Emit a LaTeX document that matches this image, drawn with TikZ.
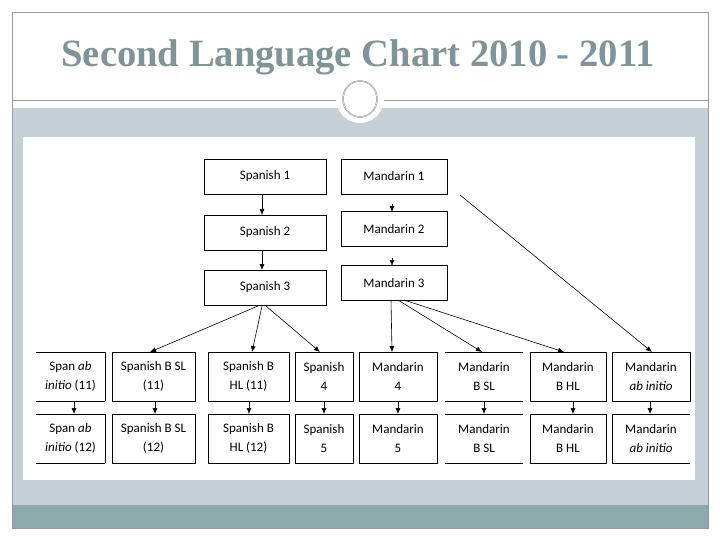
\documentclass[tikz,border=0pt]{standalone}
\usepackage{fontspec}
\usetikzlibrary{arrows.meta}
\setmainfont{Carlito}
\newfontfamily\titlefont{Liberation Serif}
\begin{document}
\begin{tikzpicture}[x=1pt,y=-1pt,>={Latex[length=6pt,width=5pt]},
  bx/.style={draw=black,line width=0.6pt,minimum height=35pt,inner sep=1pt,font=\fontsize{13}{14}\selectfont,align=center},
  lb/.style={draw=none,minimum height=49pt,inner sep=1pt,font=\fontsize{13}{19}\selectfont,align=center},
  ar/.style={->,line width=0.6pt}]
\useasboundingbox (0,0) rectangle (720,540);
\fill[white] (0,0) rectangle (720,540);
\fill[fill={rgb,255:red,197;green,208;blue,214}] (12,108) rectangle (708,505);
\fill[fill={rgb,255:red,139;green,171;blue,173}] (12,505) rectangle (708,528);
\draw[gray!80] (12,12) rectangle (708,528);
\fill[white] (23,137) rectangle (695,480);
\draw[gray!80] (12,100) -- (708,100);
\fill[white] (360,99) circle (24);
\draw[gray!90,line width=1.4pt] (360,99) ellipse (17 and 18);
\draw[white,line width=0.4pt] (360,99) ellipse (17 and 18);
\node[text={rgb,255:red,127;green,148;blue,150}] (title) at (358,57) {\resizebox{593pt}{!}{\titlefont\bfseries Second Language Chart 2010 - 2011}};
% top boxes
\node[bx,minimum width=122pt] (s1) at (265,176.5) {Spanish 1};
\node[bx,minimum width=122pt] (s2) at (265,232.5) {Spanish 2};
\node[bx,minimum width=122pt] (s3) at (265,287.5) {Spanish 3};
\node[bx,minimum width=106pt] (m1) at (394,176.5) {Mandarin 1};
\node[bx,minimum width=106pt] (m2) at (394,229) {Mandarin 2};
\node[bx,minimum width=106pt] (m3) at (394,283) {Mandarin 3};
% rows
\foreach \n/\a/\b/\y in {a4/36/105/352,b4/112/195/352,c4/208/289/352,d4/295/353/352,e4/359/437/352,f4/445/523/352,g4/530/606/352,h4/612/690/352,
 a5/36/105/414,b5/112/195/414,c5/208/289/414,d5/295/353/414,e5/359/437/414,f5/445/523/414,g5/530/606/414,h5/612/690/414}{
 \coordinate (\n nw) at (\a,\y); \coordinate (\n se) at (\b,\y+49);}
\foreach \n in {b4,c4,d4,e4,g4,h4,b5,c5,d5,e5,g5}{\draw[line width=0.6pt] (\n nw) rectangle (\n se);}
\foreach \n in {a4,f4,a5,f5,h5}{\draw[line width=0.6pt] (\n nw) -- (\n nw -| \n se) (\n se) -- (\n se -| \n nw);}
\draw[line width=0.6pt] (a4se) -- (a4se |- a4nw) (a5se) -- (a5se |- a5nw) (h5nw) -- (h5nw |- h5se);
\node[lb] (a4) at (70.5,376.5) {Span \textit{ab}\\\textit{initio} (11)};
\node[lb] (b4) at (153.5,376.5) {Spanish B SL\\(11)};
\node[lb] (c4) at (248.5,376.5) {Spanish B\\HL (11)};
\node[lb] (d4) at (324,376.5) {Spanish\\4};
\node[lb] (e4) at (398,376.5) {Mandarin\\4};
\node[lb] (f4) at (484,376.5) {Mandarin\\B SL};
\node[lb] (g4) at (568,376.5) {Mandarin\\B HL};
\node[lb] (h4) at (651,376.5) {Mandarin\\\textit{ab initio}};
\node[lb] (a5) at (70.5,438.5) {Span \textit{ab}\\\textit{initio} (12)};
\node[lb] (b5) at (153.5,438.5) {Spanish B SL\\(12)};
\node[lb] (c5) at (248.5,438.5) {Spanish B\\HL (12)};
\node[lb] (d5) at (324,438.5) {Spanish\\5};
\node[lb] (e5) at (398,438.5) {Mandarin\\5};
\node[lb] (f5) at (484,438.5) {Mandarin\\B SL};
\node[lb] (g5) at (568,438.5) {Mandarin\\B HL};
\node[lb] (h5) at (651,438.5) {Mandarin\\\textit{ab initio}};
% arrows
\draw[ar] (262,194) -- (262,215);
\draw[ar] (262,250) -- (262,270);
\draw[ar] (392,204) -- (392,212);
\draw[ar] (392,258) -- (392,266);
\draw[ar] (460,195) -- (652,352);
\draw[ar] (258,306) -- (150,352);
\draw[ar] (262,306) -- (252,352);
\draw[ar] (266,306) -- (320,352);
\draw[ar] (391,300) -- (392,352);
\draw[ar] (398,300) -- (482,352);
\draw[ar] (404,300) -- (564,352);
\foreach \x in {74,155,249,324,398,484,573,650}{\draw[ar] (\x,401) -- (\x,414);}
\end{tikzpicture}
\end{document}
